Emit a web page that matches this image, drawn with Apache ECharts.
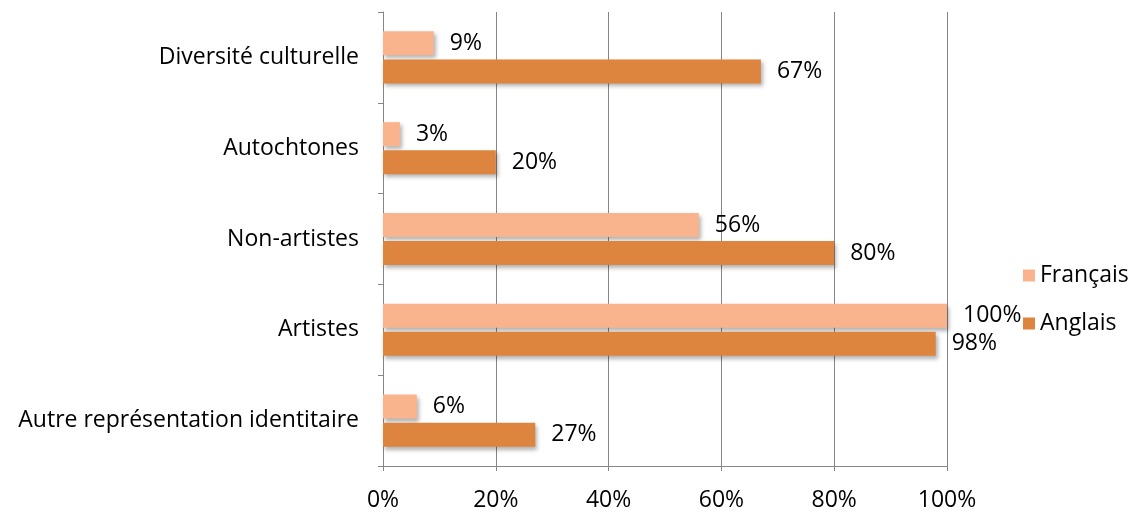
<!DOCTYPE html>
<html><head><meta charset="utf-8">
<script src="https://cdn.jsdelivr.net/npm/echarts@6/dist/echarts.min.js"></script>
<style>html,body{margin:0;padding:0;background:#fff}#c{width:1133px;height:520px}</style>
</head><body><div id="c"></div>
<script>
const categories = ['Diversité culturelle','Autochtones','Non-artistes','Artistes','Autre représentation identitaire'];
const francais = [9, 3, 56, 100, 6];
const anglais = [67, 20, 80, 98, 27];
const xTicks = [0, 20, 40, 60, 80, 100];

const font = 'Open Sans';
const chart = echarts.init(document.getElementById('c'));
const lbl = {show:true, position:'right', distance:16, formatter:p=>p.value+'%', color:'#000', fontSize:23, fontFamily:font};
const shadow = {shadowBlur:4, shadowOffsetX:2, shadowOffsetY:3, shadowColor:'rgba(0,0,0,0.3)'};
chart.setOption({
  animation:false,
  textStyle:{fontFamily:font},
  grid:{left:383, right:186, top:12, bottom:54, containLabel:false},
  legend:{
    orient:'vertical', left:1018, top:259, icon:'rect', itemWidth:12, itemHeight:12, itemGap:25,
    textStyle:{fontSize:23, color:'#000', fontFamily:font},
    data:['Français','Anglais']
  },
  xAxis:{
    type:'value', min:xTicks[0], max:xTicks[xTicks.length-1], interval:20,
    axisLine:{show:true, lineStyle:{color:'#868686'}},
    axisTick:{show:true, length:5, lineStyle:{color:'#868686'}},
    splitLine:{show:true, lineStyle:{color:'#868686'}},
    axisLabel:{formatter:v=>v+'%', fontSize:23, color:'#000', margin:23}
  },
  yAxis:{
    type:'category', data:categories, inverse:true,
    axisLine:{show:true, lineStyle:{color:'#868686'}},
    axisTick:{show:true, length:5, lineStyle:{color:'#868686'}},
    axisLabel:{fontSize:23, color:'#000', margin:24}
  },
  series:[
    {name:'Français', type:'bar', data:francais, barWidth:24, barGap:'17%', itemStyle:Object.assign({color:'#F9B48E'}, shadow), label:lbl},
    {name:'Anglais', type:'bar', data:anglais, barWidth:24, barGap:'17%', itemStyle:Object.assign({color:'#DD843F'}, shadow), label:lbl}
  ]
});
</script></body></html>
